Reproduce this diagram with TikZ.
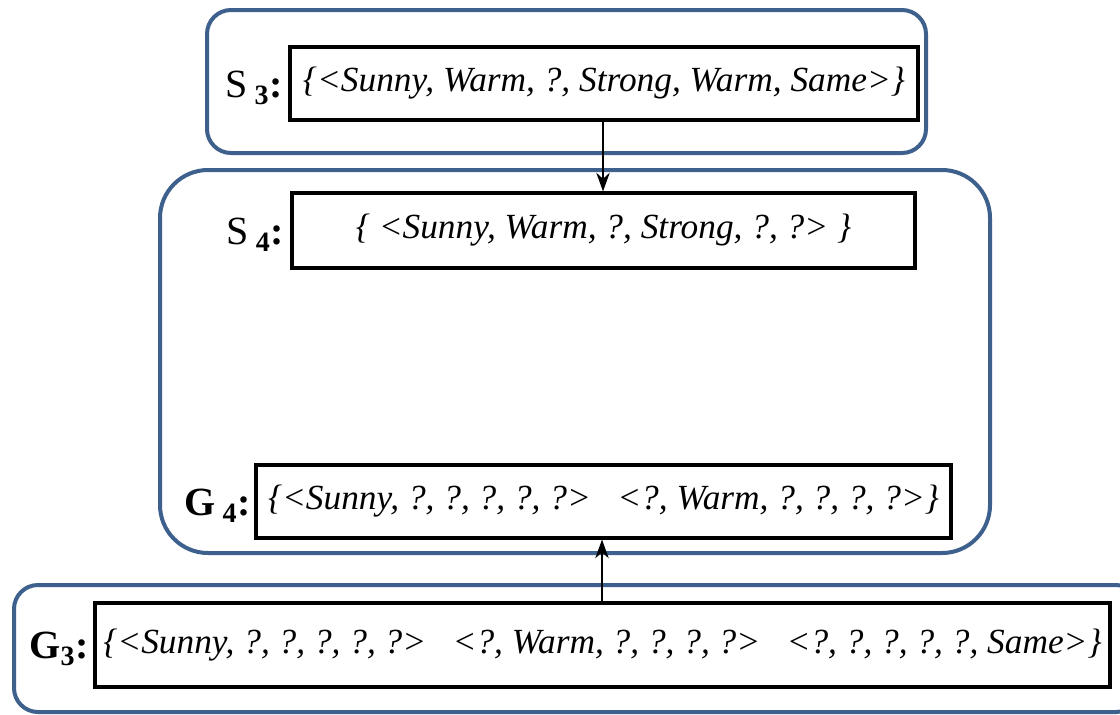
\documentclass[tikz,border=0pt]{standalone}
\usepackage{fontspec}
\setmainfont{Liberation Serif}
\usetikzlibrary{arrows.meta}
\definecolor{frameblue}{RGB}{62,96,140}
\begin{document}
\begin{tikzpicture}[x=0.75pt,y=-0.75pt,
  group/.style={draw=frameblue,line width=3pt},
  setbox/.style={draw=black,line width=2.3pt,rectangle,inner sep=0pt,
    font=\fontsize{26.5}{30}\selectfont\itshape},
  setlabel/.style={anchor=east,inner sep=0pt,font=\fontsize{30}{34}\selectfont\bfseries},
  link/.style={line width=1.8pt,-{Stealth[length=14pt,width=10pt]}}]
\useasboundingbox (0,0) rectangle (1120,714);
\begin{scope}
\clip (0,0) rectangle (1120,714);
% grouping frames
\draw[group,rounded corners=18pt] (207,10) rectangle (926,153);
\draw[group,rounded corners=36pt] (160,170) rectangle (990,553);
\draw[group,rounded corners=18pt] (14,585) rectangle (1140,712);
\end{scope}
% version-space boundary sets
\node[setbox,minimum width={628*0.75pt},minimum height={73*0.75pt}] (s3) at (604,83.5)
  {\{<Sunny, Warm, ?, Strong, Warm, Same>\}};
\node[setbox,minimum width={623*0.75pt},minimum height={75*0.75pt}] (s4) at (603.5,230.5)
  {\{ <Sunny, Warm, ?, Strong, ?, ?> \}};
\node[setbox,minimum width={695*0.75pt},minimum height={73*0.75pt}] (g4) at (603.5,501.5)
  {\{<Sunny, ?, ?, ?, ?, ?> \ \ <?, Warm, ?, ?, ?, ?>\}};
\node[setbox,minimum width={1015*0.75pt},minimum height={84*0.75pt}] (g3) at (602.5,645)
  {\{<Sunny, ?, ?, ?, ?, ?> \ \ <?, Warm, ?, ?, ?, ?> \ \ <?, ?, ?, ?, ?, Same>\}};
% labels
\node[setlabel] (ls3) at (283,88) {\textmd{S}\,$_{\mathbf{3}}$:};
\node[setlabel] (ls4) at (284,235) {\textmd{S}\,$_{\mathbf{4}}$:};
\node[setlabel] (lg4) at (251,506) {G\,$_{\mathbf{4}}$:};
\node[setlabel] (lg3) at (89,649) {G$_{\mathbf{3}}$:};
% refinement steps
\draw[link] (s3.south -| 603,0) -- (s4.north -| 603,0);
\draw[link] (g3.north -| 602,0) -- (g4.south -| 602,0);
\end{tikzpicture}
\end{document}
